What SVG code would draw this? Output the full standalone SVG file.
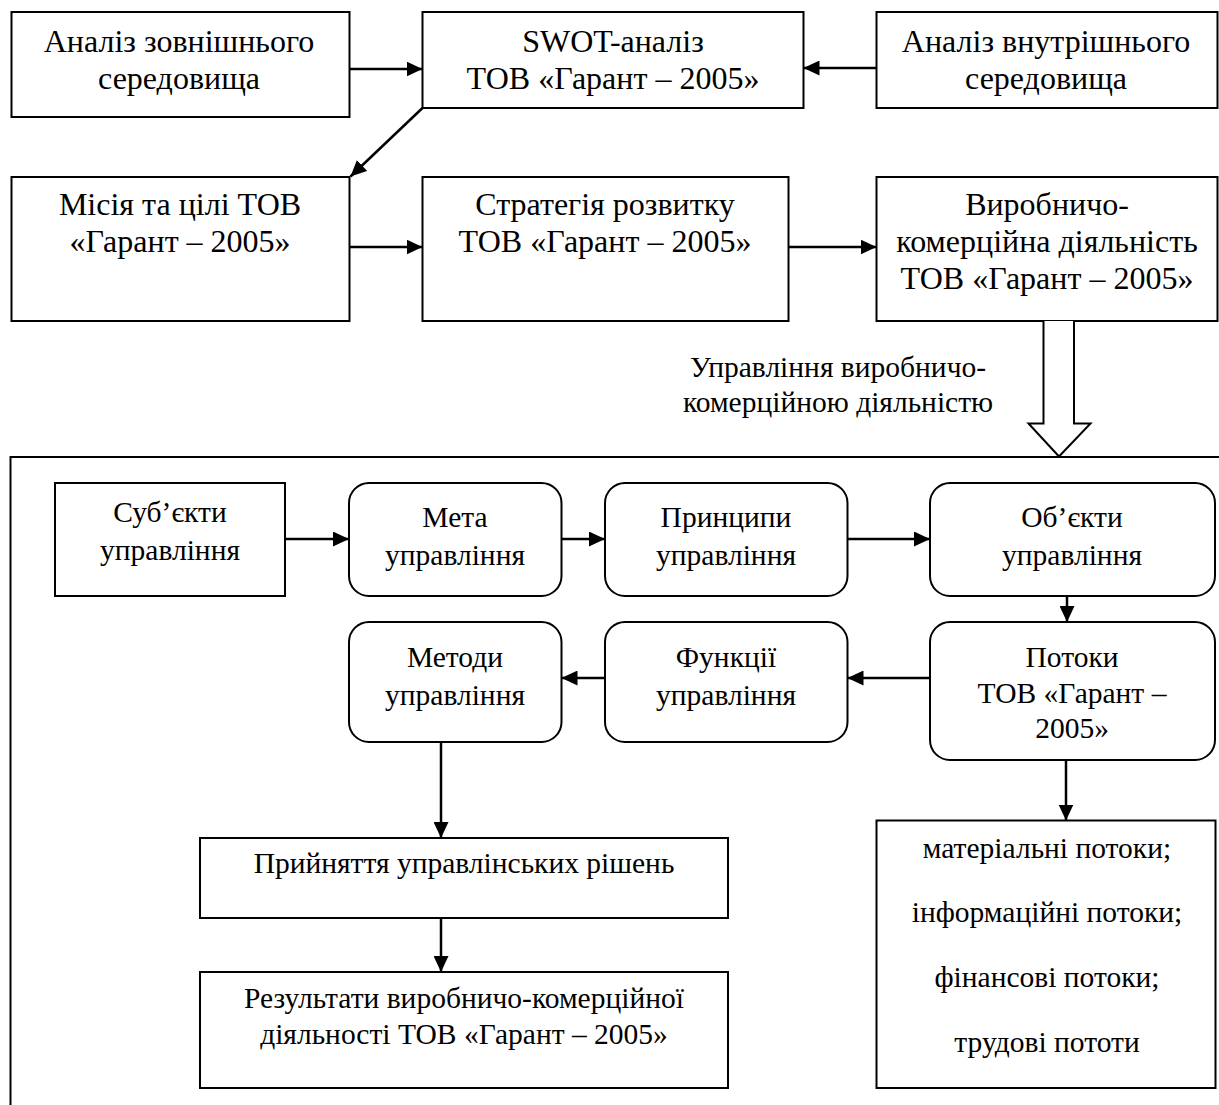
<svg xmlns="http://www.w3.org/2000/svg" width="1219" height="1105" viewBox="0 0 1219 1105">
<defs>
<style>
.box{fill:#fff;stroke:#000;stroke-width:2}
.t{font-family:"Liberation Serif","Times New Roman",serif;font-size:29.5px;fill:#000;text-anchor:middle}
.big{font-size:32px}
.c{fill:none;stroke:#000;stroke-width:2.5}
</style>
<marker id="ah" markerUnits="userSpaceOnUse" markerWidth="17" markerHeight="15" refX="16" refY="7.5" orient="auto">
<path d="M0,0 L16,7.5 L0,15 z" fill="#000"/>
</marker>
</defs>
<rect width="1219" height="1105" fill="#fff"/>
<g id="container"><rect class="box" x="10.5" y="457" width="1300" height="700"/></g>
<g id="n-ext"><rect class="box" x="11.5" y="12" width="338" height="105"/><text class="t big" x="179" y="52">Аналіз зовнішнього</text><text class="t big" x="179" y="89">середовища</text></g>
<g id="n-swot"><rect class="box" x="422.5" y="12" width="381" height="96"/><text class="t big" x="613" y="52">SWOT-аналіз</text><text class="t big" x="613" y="89">ТОВ «Гарант – 2005»</text></g>
<g id="n-int"><rect class="box" x="876.5" y="12" width="341" height="96"/><text class="t big" x="1046" y="52">Аналіз внутрішнього</text><text class="t big" x="1046" y="89">середовища</text></g>
<g id="n-mission"><rect class="box" x="11.5" y="177" width="338" height="144"/><text class="t big" x="180" y="215">Місія та цілі ТОВ</text><text class="t big" x="180" y="252">«Гарант – 2005»</text></g>
<g id="n-strategy"><rect class="box" x="422.5" y="177" width="366" height="144"/><text class="t big" x="605" y="215">Стратегія розвитку</text><text class="t big" x="605" y="252">ТОВ «Гарант – 2005»</text></g>
<g id="n-activity"><rect class="box" x="876.5" y="177" width="341" height="144"/><text class="t big" x="1047" y="215">Виробничо-</text><text class="t big" x="1047" y="252">комерційна діяльність</text><text class="t big" x="1047" y="289">ТОВ «Гарант – 2005»</text></g>
<g id="n-label"><text class="t" x="838" y="377">Управління виробничо-</text><text class="t" x="838" y="412">комерційною діяльністю</text></g>
<g id="n-subj"><rect class="box" x="55" y="483" width="230" height="113"/><text class="t" x="170" y="522">Суб’єкти</text><text class="t" x="170" y="560">управління</text></g>
<g id="n-goal"><rect class="box" x="349" y="483" width="212.5" height="113" rx="20"/><text class="t" x="455" y="527">Мета</text><text class="t" x="455" y="565">управління</text></g>
<g id="n-princ"><rect class="box" x="605" y="483" width="242.5" height="113" rx="20"/><text class="t" x="726" y="527">Принципи</text><text class="t" x="726" y="565">управління</text></g>
<g id="n-obj"><rect class="box" x="930" y="483" width="285" height="113" rx="20"/><text class="t" x="1072" y="527">Об’єкти</text><text class="t" x="1072" y="565">управління</text></g>
<g id="n-methods"><rect class="box" x="349" y="622" width="212.5" height="120" rx="20"/><text class="t" x="455" y="667">Методи</text><text class="t" x="455" y="705">управління</text></g>
<g id="n-func"><rect class="box" x="605" y="622" width="242.5" height="120" rx="20"/><text class="t" x="726" y="667">Функції</text><text class="t" x="726" y="705">управління</text></g>
<g id="n-flows"><rect class="box" x="930" y="622" width="285" height="138" rx="20"/><text class="t" x="1072" y="667">Потоки</text><text class="t" x="1072" y="703">ТОВ «Гарант –</text><text class="t" x="1072" y="738">2005»</text></g>
<g id="n-decisions"><rect class="box" x="200" y="838" width="528" height="80"/><text class="t" x="464" y="873">Прийняття управлінських рішень</text></g>
<g id="n-results"><rect class="box" x="200" y="972" width="528" height="116"/><text class="t" x="464" y="1008">Результати виробничо-комерційної</text><text class="t" x="464" y="1044">діяльності ТОВ «Гарант – 2005»</text></g>
<g id="n-list"><rect class="box" x="876.5" y="820.5" width="339" height="267.5"/><text class="t" x="1047" y="858">матеріальні потоки;</text><text class="t" x="1047" y="922">інформаційні потоки;</text><text class="t" x="1047" y="987">фінансові потоки;</text><text class="t" x="1047" y="1052">трудові пототи</text></g>
<g id="connectors">
<line class="c" x1="349.5" y1="69" x2="422.5" y2="69" marker-end="url(#ah)"/>
<line class="c" x1="876.5" y1="68" x2="803.5" y2="68" marker-end="url(#ah)"/>
<line class="c" x1="422.5" y1="108" x2="350.5" y2="176.5" marker-end="url(#ah)"/>
<line class="c" x1="349.5" y1="247" x2="422.5" y2="247" marker-end="url(#ah)"/>
<line class="c" x1="788.5" y1="247" x2="876.5" y2="247" marker-end="url(#ah)"/>
<path d="M1043.5,321 V423.5 H1028.5 L1059,456.5 L1090.5,423.5 H1074 V321" fill="#fff" stroke="#000" stroke-width="2"/>
<line class="c" x1="285" y1="539" x2="349" y2="539" marker-end="url(#ah)"/>
<line class="c" x1="561.5" y1="539" x2="605" y2="539" marker-end="url(#ah)"/>
<line class="c" x1="847.5" y1="539" x2="930" y2="539" marker-end="url(#ah)"/>
<line class="c" x1="1067" y1="596" x2="1067" y2="622" marker-end="url(#ah)"/>
<line class="c" x1="930" y1="678" x2="847.5" y2="678" marker-end="url(#ah)"/>
<line class="c" x1="605" y1="678" x2="561.5" y2="678" marker-end="url(#ah)"/>
<line class="c" x1="441" y1="742" x2="441" y2="838" marker-end="url(#ah)"/>
<line class="c" x1="441" y1="918" x2="441" y2="972" marker-end="url(#ah)"/>
<line class="c" x1="1066" y1="760" x2="1066" y2="820.5" marker-end="url(#ah)"/>
</g>
</svg>
